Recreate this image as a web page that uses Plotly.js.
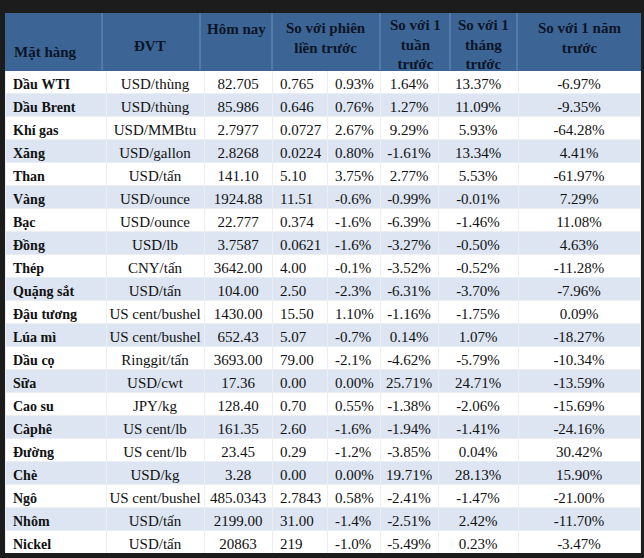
<!DOCTYPE html>
<html>
<head>
<meta charset="utf-8">
<script src="https://cdn.plot.ly/plotly-3.0.1.min.js"></script>
<style>
html,body{margin:0;padding:0;background:#1c1c1c;}
#chart{width:644px;height:558px;}
</style>
</head>
<body>
<div id="chart"></div>
<script>
// ---- Data ----
var items = ['Dầu WTI','Dầu Brent','Khí gas','Xăng','Than','Vàng','Bạc','Đồng','Thép','Quặng sắt','Đậu tương','Lúa mì','Dầu cọ','Sữa','Cao su','Càphê','Đường','Chè','Ngô','Nhôm','Nickel'];
var units = ['USD/thùng','USD/thùng','USD/MMBtu','USD/gallon','USD/tấn','USD/ounce','USD/ounce','USD/lb','CNY/tấn','USD/tấn','US cent/bushel','US cent/bushel','Ringgit/tấn','USD/cwt','JPY/kg','US cent/lb','US cent/lb','USD/kg','US cent/bushel','USD/tấn','USD/tấn'];
var today = ['82.705','85.986','2.7977','2.8268','141.10','1924.88','22.777','3.7587','3642.00','104.00','1430.00','652.43','3693.00','17.36','128.40','161.35','23.45','3.28','485.0343','2199.00','20863'];
var chgAbs = ['0.765','0.646','0.0727','0.0224','5.10','11.51','0.374','0.0621','4.00','2.50','15.50','5.07','79.00','0.00','0.70','2.60','0.29','0.00','2.7843','31.00','219'];
var chgPct = ['0.93%','0.76%','2.67%','0.80%','3.75%','-0.6%','-1.6%','-1.6%','-0.1%','-2.3%','1.10%','-0.7%','-2.1%','0.00%','0.55%','-1.6%','-1.2%','0.00%','0.58%','-1.4%','-1.0%'];
var week = ['1.64%','1.27%','9.29%','-1.61%','2.77%','-0.99%','-6.39%','-3.27%','-3.52%','-6.31%','-1.16%','0.14%','-4.62%','25.71%','-1.38%','-1.94%','-3.85%','19.71%','-2.41%','-2.51%','-5.49%'];
var month = ['13.37%','11.09%','5.93%','13.34%','5.53%','-0.01%','-1.46%','-0.50%','-0.52%','-3.70%','-1.75%','1.07%','-5.79%','24.71%','-2.06%','-1.41%','0.04%','28.13%','-1.47%','2.42%','0.23%'];
var year = ['-6.97%','-9.35%','-64.28%','4.41%','-61.97%','7.29%','11.08%','4.63%','-11.28%','-7.96%','0.09%','-18.27%','-10.34%','-13.59%','-15.69%','-24.16%','30.42%','15.90%','-21.00%','-11.70%','-3.47%'];

var headerLabels = [['Mặt hàng'],['ĐVT'],['Hôm nay'],['So với phiên','liền trước'],['So với 1','tuần','trước'],['So với 1','tháng','trước'],['So với 1 năm','trước']];

// ---- Layout geometry (pixels) ----
var W = 644, H = 558, mL = 5, mR = 4, mT = 13, mB = 5;
var pw = W - mL - mR, ph = H - mT - mB;
var headerH = 57, rowH = 23;
var colPx = [101, 98, 68, 55, 53, 58, 80, 122];
var headerDividers = [102, 200, 272, 380, 450, 517];
var headerPos = [
  {x: 12, anchor: 'left', y: 52},
  {x: 150, anchor: 'center', y: 46},
  {x: 236, anchor: 'center', y: 29},
  {x: 326, anchor: 'center', y: 38},
  {x: 415, anchor: 'center', y: 44},
  {x: 484, anchor: 'center', y: 44},
  {x: 579, anchor: 'center', y: 38}
];
function px2x(p){ return (p - mL) / pw; }
function px2y(p){ return (H - mB - p) / ph; }
// keep single-line cells from wrapping / growing
function nb(s){ return s.replace(/ /g, '\u00a0'); }

var FONT = '"Liberation Serif", "Times New Roman", Times, serif';
var headerFill = '#3c6596';
var altFill = '#dce5f1';
var rowFills = items.map(function(_, i){ return i % 2 === 0 ? '#ffffff' : altFill; });

var trace = {
  type: 'table',
  columnwidth: colPx,
  domain: {x: [0, 1], y: [0, 1]},
  header: {
    values: ['', '', '', '', '', '', '', ''],
    height: headerH,
    fill: {color: headerFill},
    line: {color: headerFill, width: 1},
    font: {family: FONT, size: 15, color: '#0b1526'}
  },
  cells: {
    values: [items.map(nb), units.map(nb), today, chgAbs, chgPct, week, month, year],
    height: rowH,
    align: ['left', 'center', 'center', 'left', 'left', 'center', 'center', 'center'],
    fill: {color: [rowFills, rowFills, rowFills, rowFills, rowFills, rowFills, rowFills, rowFills]},
    line: {color: '#eceef2', width: 1},
    font: {family: FONT, size: [14, 15, 15, 15, 15, 15, 15, 15], color: '#111111',
           weight: ['bold', 'normal', 'normal', 'normal', 'normal', 'normal', 'normal', 'normal']}
  }
};

var annotations = headerLabels.map(function(lines, c){
  var hp = headerPos[c];
  return {
    xref: 'paper', yref: 'paper',
    x: px2x(hp.x), y: px2y(hp.y),
    xanchor: hp.anchor, yanchor: 'middle',
    text: lines.join('<br>'),
    align: 'center',
    showarrow: false,
    font: {family: FONT, size: 15, color: '#0b1526', weight: 'bold'}
  };
});

var shapes = headerDividers.map(function(p){
  return {type: 'line', xref: 'paper', yref: 'paper',
    x0: px2x(p), x1: px2x(p), y0: px2y(mT), y1: px2y(mT + headerH),
    line: {color: '#6d8fbc', width: 1}};
});

var layout = {
  width: W, height: H,
  margin: {l: mL, r: mR, t: mT, b: mB, pad: 0},
  paper_bgcolor: '#1c1c1c',
  plot_bgcolor: '#ffffff',
  font: {family: FONT},
  annotations: annotations,
  shapes: shapes,
  showlegend: false
};

Plotly.newPlot('chart', [trace], layout, {displayModeBar: false, staticPlot: true});
</script>
</body>
</html>
